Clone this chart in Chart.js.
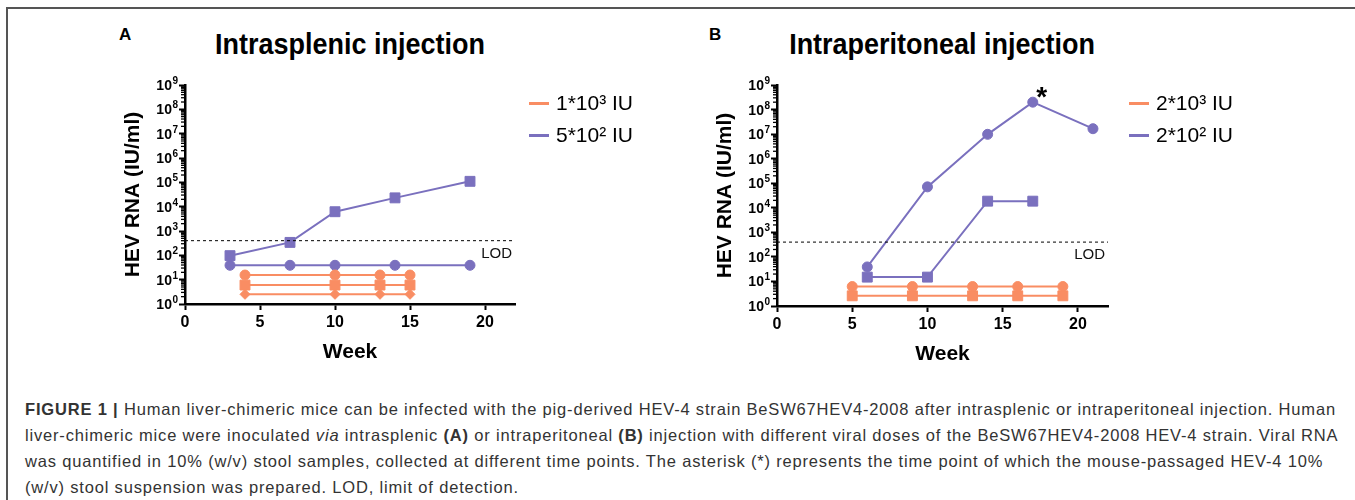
<!DOCTYPE html>
<html>
<head>
<meta charset="utf-8">
<script src="https://cdn.jsdelivr.net/npm/chart.js@4.4.1/dist/chart.umd.min.js"></script>
<style>
  body { margin: 0; background: #fff; font-family: "Liberation Sans", Arial, sans-serif; }
  #page { position: relative; width: 1355px; height: 500px; overflow: hidden; }
  .frame-top { position: absolute; left: 7px; top: 7px; width: 1348px; height: 2px; background: #555; }
  .frame-left { position: absolute; left: 6px; top: 7px; width: 2px; height: 493px; background: #555; }
  .plot { position: absolute; top: 0; }
  .panel-label { position: absolute; top: 25px; font-weight: bold; font-size: 17px; color: #000; }
  .title { position: absolute; top: 28px; font-weight: bold; font-size: 29px; color: #000;
           white-space: nowrap; transform: translateX(-50%) scaleX(0.93); }
  .legend { position: absolute; top: 87px; font-size: 21px; color: #000; }
  .legend div { height: 32px; display: flex; align-items: center; white-space: nowrap; }
  .legend span.swatch { display: inline-block; width: 20px; height: 3px; margin-right: 7px; }
  .caption { position: absolute; left: 25px; top: 396px; font-size: 16.5px; line-height: 26px;
             letter-spacing: 0.82px; color: #333; white-space: nowrap; }
</style>
</head>
<body>
<div id="page">
  <div class="frame-top"></div>
  <div class="frame-left"></div>

  <div class="panel-label" style="left:119px">A</div>
  <div class="title" style="left:350px">Intrasplenic injection</div>
  <div class="panel-label" style="left:709px">B</div>
  <div class="title" style="left:942px">Intraperitoneal injection</div>

  <canvas id="chartA" class="plot" style="left:0px" width="680" height="380"></canvas>
  <canvas id="chartB" class="plot" style="left:680px" width="675" height="380"></canvas>

  <div id="legendA" class="legend" style="left:529px"></div>
  <div id="legendB" class="legend" style="left:1129px"></div>

  <div class="caption">
    <b>FIGURE 1 |</b> Human liver-chimeric mice can be infected with the pig-derived HEV-4 strain BeSW67HEV4-2008 after intrasplenic or intraperitoneal injection. Human<br>
    liver-chimeric mice were inoculated <i>via</i> intrasplenic <b>(A)</b> or intraperitoneal <b>(B)</b> injection with different viral doses of the BeSW67HEV4-2008 HEV-4 strain. Viral RNA<br>
    was quantified in 10% (w/v) stool samples, collected at different time points. The asterisk (*) represents the time point of which the mouse-passaged HEV-4 10%<br>
    (w/v) stool suspension was prepared. LOD, limit of detection.
  </div>
</div>

<script>
const orange = '#F98D63';
const purple = '#7A70BE';

const yTicks = [1, 10, 100, 1e3, 1e4, 1e5, 1e6, 1e7, 1e8, 1e9];
const yTickExponents = ['0', '1', '2', '3', '4', '5', '6', '7', '8', '9'];
const xTicks = [0, 5, 10, 15, 20];
const xMax = 22;
const lodValue = 400;

// panel A, intrasplenic
const legendA = ['1*10³ IU', '5*10² IU'];
const weeksA1 = [4, 10, 13, 15];
const a1Circle = [15.5, 15.5, 15.5, 15.5];
const a1Square = [6, 6, 6, 6];
const a1Diamond = [2.5, 2.5, 2.5, 2.5];
const weeksA2 = [3, 7, 10, 14, 19];
const a2Square = [97, 340, 6200, 23000, 110000];
const a2Circle = [39, 39, 39, 39, 39];

// panel B, intraperitoneal
const legendB = ['2*10³ IU', '2*10² IU'];
const weeksB1 = [5, 9, 13, 16, 19];
const b1Circle = [6.2, 6.2, 6.2, 6.2, 6.2];
const b1Square = [2.6, 2.6, 2.6, 2.6, 2.6];
const weeksB2Circle = [6, 10, 14, 17, 21];
const b2Circle = [39, 71000, 9.8e6, 2.0e8, 1.66e7];
const weeksB2Square = [6, 10, 14, 17];
const b2Square = [15, 15, 18600, 18600];
const asteriskWeek = 17;

const FONT = '"Liberation Sans", Arial, sans-serif';

function series(weeks, values, color, style, radius) {
  return {
    data: weeks.map((w, i) => ({ x: w, y: values[i] })),
    borderColor: color,
    backgroundColor: color,
    borderWidth: 2,
    pointStyle: style,
    pointRadius: radius,
    pointHoverRadius: radius,
    pointBorderWidth: 1
  };
}

function lodLine() {
  return {
    data: [{ x: 0, y: lodValue }, { x: xMax, y: lodValue }],
    borderColor: '#000',
    borderWidth: 1,
    borderDash: [3, 3],
    pointRadius: 0
  };
}

// 10^n tick labels, minor log ticks, LOD text and the asterisk
const extras = {
  id: 'extras',
  afterDraw(chart, args, opts) {
    const { ctx, chartArea, scales: { x, y } } = chart;
    ctx.save();
    ctx.strokeStyle = '#000';
    ctx.lineWidth = 1.3;
    yTicks.slice(0, -1).forEach(base => {
      for (let m = 2; m <= 9; m++) {
        const py = y.getPixelForValue(base * m);
        ctx.beginPath();
        ctx.moveTo(chartArea.left - 4, py);
        ctx.lineTo(chartArea.left, py);
        ctx.stroke();
      }
    });

    ctx.fillStyle = '#000';
    ctx.textBaseline = 'alphabetic';
    yTicks.forEach((v, i) => {
      const py = y.getPixelForValue(v);
      const right = chartArea.left - 7;
      ctx.font = 'bold 10px ' + FONT;
      ctx.textAlign = 'right';
      const expW = ctx.measureText(yTickExponents[i]).width;
      ctx.fillText(yTickExponents[i], right, py - 1);
      ctx.font = 'bold 14px ' + FONT;
      ctx.fillText('10', right - expW - 0.5, py + 5);
    });

    ctx.fillStyle = '#111';
    ctx.font = '15px ' + FONT;
    ctx.textAlign = 'right';
    ctx.textBaseline = 'middle';
    ctx.fillText('LOD', chartArea.right - 3, y.getPixelForValue(lodValue) + 13);
    if (opts.starAt) {
      ctx.font = 'bold 28px ' + FONT;
      ctx.textAlign = 'center';
      ctx.fillStyle = '#000';
      ctx.fillText('*', x.getPixelForValue(opts.starAt.x) + 9, y.getPixelForValue(opts.starAt.y) - 4);
    }
    ctx.restore();
  }
};

function makeChart(id, datasets, pad, starAt) {
  return new Chart(document.getElementById(id), {
    type: 'line',
    data: { datasets: datasets },
    plugins: [extras],
    options: {
      responsive: false,
      devicePixelRatio: 1,
      animation: false,
      layout: { padding: pad },
      plugins: {
        legend: { display: false },
        tooltip: { enabled: false },
        extras: { starAt: starAt }
      },
      scales: {
        x: {
          type: 'linear',
          min: 0,
          max: xMax,
          afterBuildTicks: s => { s.ticks = xTicks.map(v => ({ value: v })); },
          afterFit: s => { s.height = 60.6; },
          grid: { drawOnChartArea: false, drawTicks: true, tickLength: 6, tickWidth: 2, tickColor: '#000' },
          border: { display: true, color: '#000', width: 2.5 },
          ticks: { color: '#000', padding: 3, font: { family: FONT, size: 16, weight: 'bold' } },
          title: { display: true, text: 'Week', color: '#000', padding: 0,
                   font: { family: FONT, size: 21, weight: 'bold' } }
        },
        y: {
          type: 'logarithmic',
          min: 1,
          max: 1e9,
          afterBuildTicks: s => { s.ticks = yTicks.map(v => ({ value: v, major: true })); },
          afterFit: s => { s.width = 64.6; },
          grid: { drawOnChartArea: false, drawTicks: true, tickLength: 6, tickWidth: 2, tickColor: '#000' },
          border: { display: true, color: '#000', width: 2.5 },
          ticks: { display: false },
          title: { display: true, text: 'HEV RNA (IU/ml)', color: '#000', padding: 0,
                   font: { family: FONT, size: 21, weight: 'bold' } }
        }
      }
    }
  });
}

makeChart('chartA', [
  lodLine(),
  series(weeksA1, a1Circle, orange, 'circle', 5),
  series(weeksA1, a1Square, orange, 'rect', 7),
  series(weeksA1, a1Diamond, orange, 'rectRot', 5),
  series(weeksA2, a2Square, purple, 'rect', 7),
  series(weeksA2, a2Circle, purple, 'circle', 5)
], { left: 120.4, top: 85, right: 165, bottom: 15.4 }, null);

makeChart('chartB', [
  lodLine(),
  series(weeksB1, b1Circle, orange, 'circle', 5),
  series(weeksB1, b1Square, orange, 'rect', 7),
  series(weeksB2Circle, b2Circle, purple, 'circle', 5),
  series(weeksB2Square, b2Square, purple, 'rect', 7)
], { left: 32.4, top: 85, right: 247, bottom: 13.4 },
  { x: asteriskWeek, y: b2Circle[weeksB2Circle.indexOf(asteriskWeek)] });

function buildLegend(id, labels) {
  const box = document.getElementById(id);
  labels.forEach((text, i) => {
    const row = document.createElement('div');
    const sw = document.createElement('span');
    sw.className = 'swatch';
    sw.style.background = i === 0 ? orange : purple;
    row.appendChild(sw);
    row.appendChild(document.createTextNode(text));
    box.appendChild(row);
  });
}
buildLegend('legendA', legendA);
buildLegend('legendB', legendB);
</script>
</body>
</html>
